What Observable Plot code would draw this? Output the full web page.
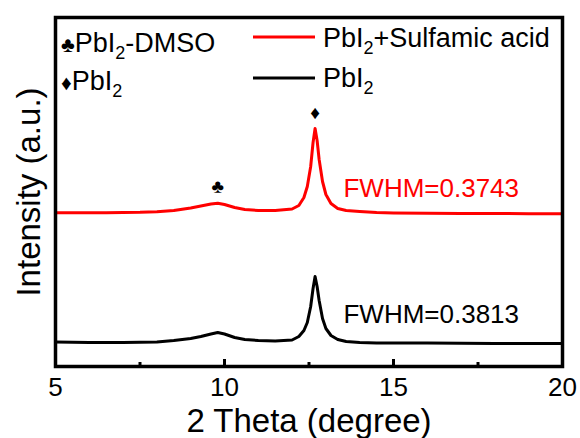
<!DOCTYPE html>
<html><head><meta charset="utf-8">
<script src="https://cdn.jsdelivr.net/npm/d3@7"></script>
<script src="https://cdn.jsdelivr.net/npm/@observablehq/plot@0.6"></script>
<style>body{margin:0;background:#fff;} #chart svg{display:block;}</style>
</head><body><div id="chart"></div>
<script>
// 2θ sample positions (degree)
const theta = [5, 5.5, 6, 6.5, 7, 7.5, 8, 8.5, 9, 9.3, 9.6, 9.8, 10.0, 10.3, 10.6, 11, 11.5, 12, 12.2, 12.35, 12.45, 12.55, 12.62, 12.68, 12.74, 12.8, 12.9, 13.0, 13.15, 13.35, 13.6, 14, 14.5, 15, 16, 17, 18, 19, 20];
// Intensity (a.u.), PbI2 (black)
const pbi2 = [24.5, 24.3, 24, 24, 24, 24.2, 24.6, 26, 28, 30, 32.5, 34, 32.5, 29, 27, 26, 25.5, 26.5, 30, 36, 44, 60, 78, 90, 80, 66, 48, 38, 31, 27, 25, 24, 23.5, 23.5, 23.5, 23.3, 23, 23, 23];
// Intensity (a.u.), PbI2 + sulfamic acid (red)
const pbi2Sulfamic = [153.7, 153.7, 153.7, 153.8, 154, 154.2, 154.8, 156, 158.5, 160.5, 162.5, 163.3, 162, 159, 157, 156, 156, 157.5, 161, 169, 180, 200, 224, 238, 226, 207, 185, 172, 163, 158, 156, 155, 154, 153.5, 153.2, 153, 153, 152.8, 152.7];

const xTicksMajor = [5, 10, 15, 20];
const xTicksMinor = [7.5, 12.5, 17.5];
const seriesNames = ["PbI_2+Sulfamic acid", "PbI_2"];
const seriesColors = ["#ff0000", "#000000"];
const phaseSymbols = ["\u2663", "\u2666"];
const phaseNames = ["PbI_2-DMSO", "PbI_2"];
const phasePeaks = [9.82, 12.68];
const fwhmLabels = ["FWHM=0.3743", "FWHM=0.3813"];

const FONT = "'Liberation Sans', Arial, Helvetica, sans-serif";

const redRows = theta.map((t, i) => ({theta: t, intensity: pbi2Sulfamic[i]}));
const blackRows = theta.map((t, i) => ({theta: t, intensity: pbi2[i]}));

function nearestIdx(t) {
  let best = 0;
  theta.forEach((v, i) => { if (Math.abs(v - t) < Math.abs(theta[best] - t)) best = i; });
  return best;
}
const markerRows = phasePeaks.map((t, i) => ({theta: theta[nearestIdx(t)], intensity: pbi2Sulfamic[nearestIdx(t)], sym: phaseSymbols[i]}));

function addSub(t, s) {
  const parts = s.split("_2");
  t.append("tspan").text(parts[0]);
  t.append("tspan").attr("font-size", 18).attr("dy", 7).text("2");
  if (parts[1]) t.append("tspan").attr("dy", -7).text(parts[1]);
}

function legendMark() {
  const g = d3.create("svg:g").attr("font-family", FONT).attr("fill", "black").attr("text-anchor", "start");
  phaseNames.forEach((name, i) => {
    const t = g.append("text").attr("x", 61).attr("y", 52 + i * 38).attr("font-size", 27).attr("text-anchor", "start");
    t.append("tspan").attr("font-size", 21).text(phaseSymbols[i]);
    addSub(t, name);
  });
  seriesNames.forEach((name, i) => {
    const yy = 37 + i * 41;
    g.append("line").attr("x1", 253).attr("x2", 315).attr("y1", yy).attr("y2", yy)
      .attr("stroke", seriesColors[i]).attr("stroke-width", 3);
    const t = g.append("text").attr("x", 323).attr("y", 47 + i * 40).attr("font-size", 27).attr("text-anchor", "start");
    addSub(t, name);
  });
  return g.node();
}

const chart = Plot.plot({
  width: 580,
  height: 438,
  marginLeft: 55,
  marginRight: 18,
  marginTop: 17,
  marginBottom: 72,
  style: {fontFamily: FONT, background: "#fff", color: "#000"},
  x: {domain: [5, 20], axis: null},
  y: {domain: [0, 349], axis: null},
  marks: [
    Plot.line(redRows, {x: "theta", y: "intensity", stroke: seriesColors[0], strokeWidth: 3}),
    Plot.line(blackRows, {x: "theta", y: "intensity", stroke: seriesColors[1], strokeWidth: 3}),
    Plot.ruleX(xTicksMajor, {y1: 0, y2: 7, stroke: "#000", strokeWidth: 3}),
    Plot.ruleX(xTicksMinor, {y1: 0, y2: 4, stroke: "#000", strokeWidth: 3}),
    Plot.frame({stroke: "#000", strokeWidth: 3.5}),
    Plot.text(xTicksMajor, {x: d => d, frameAnchor: "bottom", lineAnchor: "middle", textAnchor: "middle", dy: 21, fontSize: 26, text: d => String(d), fill: "#000"}),
    Plot.text(["2 Theta (degree)"], {frameAnchor: "bottom", lineAnchor: "middle", textAnchor: "middle", dy: 55, fontSize: 33, fill: "#000"}),
    Plot.text(["Intensity (a.u.)"], {frameAnchor: "left", lineAnchor: "middle", textAnchor: "middle", dx: -26, rotate: -90, fontSize: 33, fill: "#000"}),
    Plot.text(markerRows, {x: "theta", y: "intensity", text: "sym", dy: -16, fontSize: 19, fill: "#000"}),
    Plot.text([fwhmLabels[0]], {x: 13.52, y: pbi2Sulfamic[pbi2Sulfamic.length - 1], dy: -25, text: d => d, textAnchor: "start", fontSize: 26, fill: seriesColors[0]}),
    Plot.text([fwhmLabels[1]], {x: 13.52, y: pbi2[pbi2.length - 1], dy: -29, text: d => d, textAnchor: "start", fontSize: 26, fill: seriesColors[1]}),
    legendMark
  ]
});
document.getElementById("chart").appendChild(chart);
</script>
</body></html>
